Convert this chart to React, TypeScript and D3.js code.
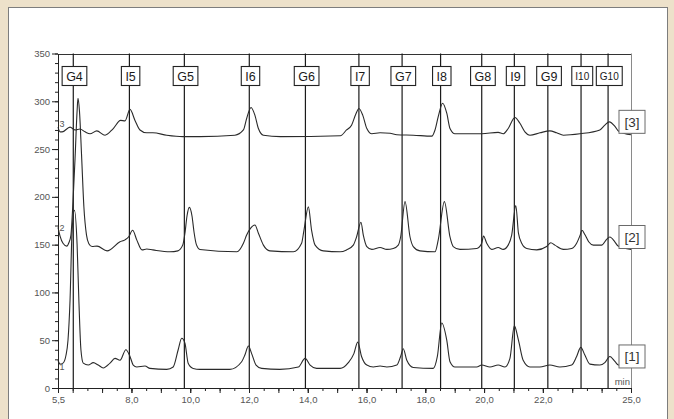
import React, { useEffect, useRef } from "react";
import * as d3 from "d3";

const W = 674;
const H = 419;
const FONT = "'Liberation Sans', Arial, Helvetica, sans-serif";

// axis ticks
const xTickLabels = [5.5, 8, 10, 12, 14, 16, 18, 20, 22, 25];
const yTickLabels = [0, 50, 100, 150, 200, 250, 300, 350];

// reference markers (min)
const markerNames = ["G4", "I5", "G5", "I6", "G6", "I7", "G7", "I8", "G8", "I9", "G9", "I10", "G10"];
const markerTimes = [6.02, 7.93, 9.8, 12.01, 13.92, 15.74, 17.21, 18.52, 19.92, 21.03, 22.17, 23.3, 24.22];

// series
const seriesNames = ["[1]", "[2]", "[3]"];
const seriesTags = ["1", "2", "3"];
const seriesTagValues = [22, 168, 276];

const trace1: [number, number][] = [
  [5.5, 29], [5.57, 25], [5.67, 26], [5.77, 34], [5.84, 50], [5.91, 92], [5.98, 165], [6.06, 186],
  [6.15, 150], [6.21, 92], [6.28, 40], [6.36, 26], [6.53, 24], [6.7, 26.5], [6.87, 24], [7.04, 21],
  [7.27, 26], [7.44, 31], [7.61, 29], [7.81, 40], [7.95, 33], [8.06, 24], [8.18, 22], [8.46, 23],
  [8.63, 20.5], [9.2, 19.5], [9.42, 22], [9.59, 40], [9.71, 52], [9.82, 47], [9.93, 26], [10.1, 20.5],
  [10.33, 19.5], [11.35, 19.5], [11.75, 27.5], [11.86, 34.5], [11.98, 44], [12.09, 36], [12.24, 24],
  [12.43, 20.5], [13.05, 19.5], [13.68, 22], [13.91, 31], [14.08, 24], [14.3, 20.5], [15.1, 20.5],
  [15.38, 26.5], [15.57, 36], [15.7, 48], [15.83, 33], [16.01, 24], [16.23, 22], [16.46, 23],
  [16.69, 22], [17.03, 24], [17.16, 33], [17.25, 41], [17.37, 29], [17.59, 21.5], [18.27, 20.5],
  [18.41, 33], [18.56, 68], [18.73, 50], [18.84, 27.5], [19.01, 22], [19.75, 22], [19.92, 24],
  [20.2, 22], [20.48, 24], [20.71, 22], [20.88, 31], [21.03, 65], [21.17, 50], [21.33, 29],
  [21.56, 22], [21.9, 22], [22.24, 24], [22.58, 22], [22.98, 24], [23.15, 33], [23.29, 42.5],
  [23.43, 34.5], [23.6, 25], [23.94, 24], [24.11, 26.5], [24.28, 33], [24.46, 27.5], [24.57, 24],
  [25.0, 23],
];

const trace2: [number, number][] = [
  [5.5, 168], [5.57, 159], [5.67, 151.5], [5.8, 148.5], [5.87, 152], [5.94, 160], [6.01, 195],
  [6.08, 240], [6.15, 290], [6.18, 303], [6.23, 290], [6.3, 245], [6.38, 190], [6.47, 160],
  [6.55, 151], [6.66, 148], [6.83, 148.5], [7.17, 143.5], [7.61, 153], [7.78, 155], [7.9, 158],
  [8.04, 165], [8.18, 155], [8.36, 144.5], [8.52, 145.5], [8.73, 144.5], [9.31, 142.5], [9.58, 143.5],
  [9.75, 150], [9.82, 162], [9.89, 180], [9.97, 189], [10.06, 180], [10.13, 163], [10.21, 150],
  [10.33, 145], [11.59, 142.5], [11.81, 151.5], [11.92, 160], [12.05, 167], [12.2, 170.5],
  [12.32, 162], [12.49, 149.5], [12.71, 143.5], [13.51, 142.5], [13.79, 151.5], [13.87, 165],
  [14.02, 189.5], [14.13, 165], [14.25, 149.5], [14.53, 143.5], [15.1, 142.5], [15.32, 144.5],
  [15.55, 149.5], [15.66, 158], [15.81, 173.5], [15.89, 160], [16.01, 148], [16.18, 145],
  [16.46, 147], [16.69, 145], [16.91, 146], [17.08, 149.5], [17.16, 158], [17.31, 195],
  [17.48, 158], [17.59, 148], [17.82, 143.5], [18.33, 142.5], [18.44, 155], [18.65, 195],
  [18.84, 158], [18.95, 148], [19.18, 145], [19.75, 146], [19.92, 151.5], [19.98, 159],
  [20.09, 151.5], [20.26, 145], [20.48, 147], [20.65, 145], [20.82, 149.5], [20.94, 160],
  [21.08, 191], [21.17, 162], [21.28, 151.5], [21.45, 146], [21.79, 144.5], [22.13, 148],
  [22.27, 152], [22.41, 149.5], [22.7, 145], [22.98, 146], [23.15, 151.5], [23.27, 160],
  [23.33, 165], [23.44, 160], [23.56, 153], [23.72, 149.5], [24.0, 149.5], [24.17, 155.5],
  [24.28, 158], [24.45, 153], [24.56, 148.5], [25.0, 145],
];

const trace3: [number, number][] = [
  [5.5, 273], [5.57, 268], [5.64, 268], [5.91, 273], [6.08, 270], [6.25, 271], [6.42, 268],
  [6.59, 266], [6.82, 269], [7.1, 264.5], [7.38, 271.5], [7.63, 280], [7.78, 279.5], [7.95, 291.5],
  [8.12, 280], [8.29, 270], [8.52, 267], [8.73, 267], [9.2, 264.5], [9.75, 263], [10.33, 263],
  [11.52, 264.5], [11.81, 270], [11.92, 282], [12.07, 293.5], [12.2, 285.5], [12.32, 271.5],
  [12.49, 264.5], [13.07, 263], [15.11, 264], [15.32, 270], [15.49, 275], [15.64, 287],
  [15.74, 292.5], [15.87, 285.5], [16.01, 271.5], [16.18, 266], [16.46, 267], [16.8, 266.5],
  [17.03, 265], [17.59, 264.5], [18.22, 263.5], [18.33, 270], [18.44, 284], [18.59, 298],
  [18.73, 287.5], [18.84, 271.5], [19.01, 266], [19.92, 266], [20.48, 267.5], [20.65, 266],
  [20.82, 271.5], [21.05, 283], [21.22, 277], [21.39, 268], [21.56, 264.5], [21.9, 267],
  [22.24, 269], [22.47, 267], [22.7, 264.5], [23.26, 266], [23.94, 270], [24.11, 275],
  [24.26, 278.5], [24.46, 273.5], [24.57, 269], [25.0, 265],
];

const traces = [trace1, trace2, trace3];

const fmtX = (v: number) => v.toFixed(1).replace(".", ",");

export default function App() {
  const ref = useRef<SVGSVGElement>(null);

  useEffect(() => {
    const svg = d3.select(ref.current!);
    svg.selectAll("*").remove();

    const x = d3.scaleLinear().domain([5.5, 25]).range([58, 631]);
    const y = d3.scaleLinear().domain([0, 350]).range([388, 53.5]);

    // frame
    svg.append("rect").attr("width", W).attr("height", H).attr("fill", "#EDE1CA");
    svg
      .append("rect")
      .attr("x", 8.5)
      .attr("y", 7.5)
      .attr("width", 659)
      .attr("height", 430)
      .attr("fill", "#ffffff")
      .attr("stroke", "#7d7d7d");

    // top & right border of plot
    svg
      .append("line")
      .attr("x1", x(5.5))
      .attr("x2", x(25))
      .attr("y1", Math.round(y(350)) + 0.5)
      .attr("y2", Math.round(y(350)) + 0.5)
      .attr("stroke", "#333");
    svg
      .append("line")
      .attr("x1", Math.round(x(25)) + 0.5)
      .attr("x2", Math.round(x(25)) + 0.5)
      .attr("y1", y(350))
      .attr("y2", y(0))
      .attr("stroke", "#8a8a8a");

    // marker lines
    svg
      .append("g")
      .selectAll("line")
      .data(markerTimes)
      .join("line")
      .attr("x1", (d) => x(d))
      .attr("x2", (d) => x(d))
      .attr("y1", y(350))
      .attr("y2", y(0))
      .attr("stroke", "#1a1a1a")
      .attr("stroke-width", 1.2);

    // traces
    const line = d3
      .line<[number, number]>()
      .x((d) => x(d[0]))
      .y((d) => y(d[1]))
      .curve(d3.curveMonotoneX);
    svg
      .append("g")
      .selectAll("path")
      .data(traces)
      .join("path")
      .attr("d", (d) => line(d) as string)
      .attr("fill", "none")
      .attr("stroke", "#2a2a2a")
      .attr("stroke-width", 1.1);

    // axes
    const styleAxis = (g: d3.Selection<SVGGElement, unknown, null, undefined>) => {
      g.selectAll(".domain").attr("stroke", "#222");
      g.selectAll(".tick line").attr("stroke", "#222");
      g.selectAll("text")
        .attr("fill", "#555")
        .style("font-family", FONT)
        .style("font-size", "9.5px");
    };

    const yMinor = svg
      .append("g")
      .attr("transform", `translate(${x(5.5)},0)`)
      .call(
        d3.axisLeft(y).tickValues(d3.range(0, 351, 10)).tickSize(3).tickSizeOuter(0).tickFormat(() => "")
      );
    styleAxis(yMinor as any);
    const yAxis = svg
      .append("g")
      .attr("transform", `translate(${x(5.5)},0)`)
      .call(
        d3
          .axisLeft(y)
          .tickValues(yTickLabels)
          .tickSize(6)
          .tickSizeOuter(0)
          .tickPadding(2)
          .tickFormat((d) => String(d))
      );
    styleAxis(yAxis as any);

    const xHalf = svg
      .append("g")
      .attr("transform", `translate(0,${y(0)})`)
      .call(
        d3.axisBottom(x).tickValues(d3.range(5.5, 25.01, 0.5)).tickSize(3).tickSizeOuter(0).tickFormat(() => "")
      );
    styleAxis(xHalf as any);
    const xInt = svg
      .append("g")
      .attr("transform", `translate(0,${y(0)})`)
      .call(
        d3.axisBottom(x).tickValues(d3.range(6, 25.01, 1)).tickSize(5).tickSizeOuter(0).tickFormat(() => "")
      );
    styleAxis(xInt as any);
    const xAxis = svg
      .append("g")
      .attr("transform", `translate(0,${y(0)})`)
      .call(
        d3
          .axisBottom(x)
          .tickValues(xTickLabels)
          .tickSize(5)
          .tickSizeOuter(0)
          .tickPadding(3)
          .tickFormat((d) => fmtX(d as number))
      );
    styleAxis(xAxis as any);

    svg
      .append("text")
      .attr("x", x(25) - 1)
      .attr("y", y(0) - 3)
      .attr("text-anchor", "end")
      .attr("fill", "#555")
      .style("font-family", FONT)
      .style("font-size", "9.5px")
      .text("min");

    // small series tags near start
    svg
      .append("g")
      .selectAll("text")
      .data(seriesTags)
      .join("text")
      .attr("x", x(5.5) + 1.5)
      .attr("y", (_, i) => y(seriesTagValues[i]))
      .attr("dy", "0.35em")
      .attr("fill", "#555")
      .style("font-family", FONT)
      .style("font-size", "9px")
      .text((d) => d);

    // marker label boxes
    const boxY = 66.5;
    const boxH = 19;
    markerNames.forEach((name, i) => {
      const small = name.length > 2;
      const g = svg.append("g").attr("transform", `translate(${x(markerTimes[i]) + 1.2},${boxY + boxH / 2})`);
      const rect = g.append("rect");
      const t = g
        .append("text")
        .attr("text-anchor", "middle")
        .attr("dy", "0.36em")
        .attr("fill", "#1a1a1a")
        .style("font-family", FONT)
        .style("font-size", small ? "10px" : "12.5px")
        .text(name);
      const w = (t.node() as SVGTextElement).getComputedTextLength();
      const pad = small ? 3.5 : 4;
      rect
        .attr("x", -w / 2 - pad)
        .attr("y", -boxH / 2)
        .attr("width", w + 2 * pad)
        .attr("height", boxH)
        .attr("fill", "#fff")
        .attr("stroke", "#222")
        .attr("stroke-width", 1.1);
    });

    // series label boxes at right
    seriesNames.forEach((name, i) => {
      const v = d3.max(traces[i].filter((d) => d[0] >= 24), (d) => d[1]) as number;
      const g = svg.append("g").attr("transform", `translate(${x(25) + 1},${y(v)})`);
      const rect = g.append("rect");
      const t = g
        .append("text")
        .attr("text-anchor", "middle")
        .attr("dy", "0.36em")
        .attr("fill", "#333")
        .style("font-family", FONT)
        .style("font-size", "13.5px")
        .text(name);
      const w = (t.node() as SVGTextElement).getComputedTextLength();
      rect
        .attr("x", -w / 2 - 5.5)
        .attr("y", -11.5)
        .attr("width", w + 11)
        .attr("height", 23)
        .attr("fill", "#fff")
        .attr("stroke", "#6a6a6a")
        .attr("stroke-width", 1);
    });
  }, []);

  return (
    <svg
      ref={ref}
      width={W}
      height={H}
      style={{ position: "absolute", left: 0, top: 0, display: "block" }}
    />
  );
}
